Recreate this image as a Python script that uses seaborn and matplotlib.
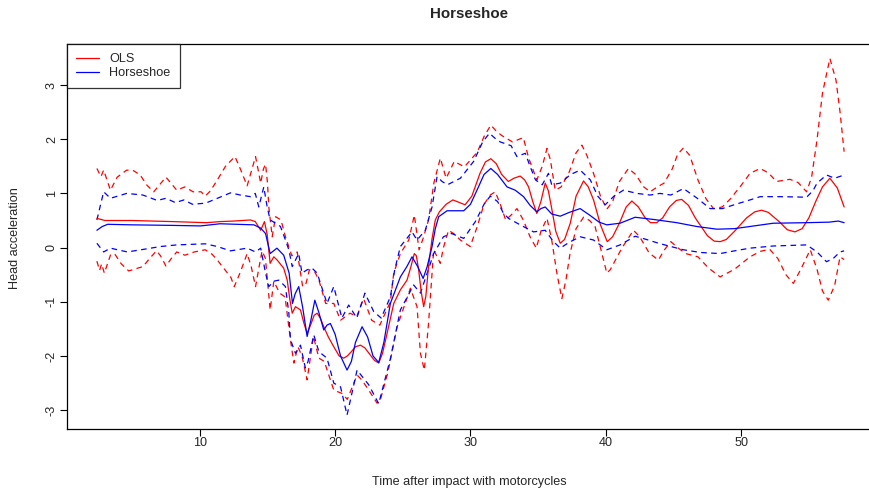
import numpy as np
import pandas as pd
import matplotlib
matplotlib.use("Agg")
import matplotlib.pyplot as plt
import seaborn as sns
from matplotlib.lines import Line2D

# ---------------- data ----------------
ols_mid_x = [2.4, 3.0, 5.0, 8.0, 10.5, 11.5, 12.5, 13.75, 14.1, 14.5, 14.78, 14.98, 15.2, 15.47, 15.72,
             16.2, 16.46, 16.65, 16.83, 17.07, 17.44, 17.7, 17.93, 18.2, 18.45, 18.67, 18.9, 19.16, 19.5,
             19.9, 20.3, 20.63, 20.9, 21.2, 21.5, 21.87, 22.2, 22.5, 22.9, 23.22, 23.5, 23.84, 24.33, 24.82,
             25.31, 25.6, 25.85, 26.0, 26.17, 26.35, 26.54, 26.7, 26.9, 27.15, 27.4, 27.7, 28.2, 28.7, 29.1,
             29.6, 30.1, 30.7, 31.1, 31.5, 31.9, 32.3, 32.8, 33.2, 33.67, 34.0, 34.29, 34.6, 34.9, 35.2,
             35.52, 35.75, 36.0, 36.3, 36.63, 36.95, 37.37, 37.8, 38.35, 38.7, 39.09, 39.6, 40.1, 40.5,
             41.0, 41.5, 41.92, 42.4, 42.9, 43.3, 43.76, 44.2, 44.7, 45.2, 45.6, 46.1, 46.6, 47.5, 48.0,
             48.44, 48.9, 49.5, 50.4, 51.0, 51.5, 52.0, 52.8, 53.4, 53.97, 54.5, 55.0, 55.5, 56.0, 56.55,
             57.1, 57.6]
ols_mid_y = [0.54, 0.50, 0.50, 0.48, 0.46, 0.48, 0.49, 0.51, 0.48, 0.32, 0.48, 0.24, -0.29, -0.17, -0.23,
             -0.38, -0.60, -0.95, -1.21, -1.09, -1.15, -1.40, -1.58, -1.42, -1.25, -1.21, -1.30, -1.46, -1.65,
             -1.83, -2.00, -2.04, -2.00, -1.92, -1.83, -1.80, -1.85, -1.95, -2.08, -2.13, -1.95, -1.58, -1.03, -0.78,
             -0.60, -0.35, -0.11, -0.15, -0.41, -0.80, -1.09, -0.90, -0.35, 0.15, 0.51, 0.66, 0.80, 0.88, 0.84,
             0.79, 0.95, 1.37, 1.58, 1.64, 1.55, 1.35, 1.22, 1.28, 1.32, 1.25, 1.12, 0.85, 0.63, 0.85,
             1.19, 1.05, 0.72, 0.30, 0.08, 0.15, 0.45, 0.95, 1.23, 1.12, 0.88, 0.42, 0.11, 0.20,
             0.45, 0.75, 0.86, 0.75, 0.55, 0.46, 0.46, 0.55, 0.75, 0.87, 0.89, 0.78, 0.55, 0.22, 0.12,
             0.11, 0.15, 0.30, 0.55, 0.66, 0.69, 0.65, 0.48, 0.33, 0.29, 0.35, 0.55, 0.85, 1.12, 1.28,
             1.10, 0.75]

hs_mid_x = [2.4, 2.8, 3.2, 5.0, 8.0, 10.06, 11.5, 14.0, 14.5, 14.86, 15.2, 15.7, 16.2, 16.6, 16.85, 17.05,
            17.31, 17.6, 17.93, 18.2, 18.5, 18.8, 19.16, 19.4, 19.65, 20.0, 20.4, 20.88, 21.2, 21.5, 21.99,
            22.4, 22.8, 23.22, 23.6, 24.08, 24.82, 25.3, 25.68, 26.1, 26.5, 26.8, 27.16, 27.4, 27.65, 28.27,
            29.5, 30.0, 30.48, 31.0, 31.5, 32.0, 32.7, 33.3, 33.92, 34.4, 34.9, 35.2, 35.52, 36.0, 36.63,
            37.3, 38.1, 38.8, 39.5, 40.07, 41.05, 42.16, 43.5, 45.24, 46.7, 48.2, 49.5, 50.65, 52.37,
            54.83, 56.5, 57.17, 57.6]
hs_mid_y = [0.32, 0.39, 0.43, 0.42, 0.41, 0.40, 0.44, 0.42, 0.36, 0.26, -0.11, -0.01, -0.14, -0.47, -1.03, -0.85,
            -0.72, -1.10, -1.64, -1.35, -0.97, -1.20, -1.52, -1.43, -1.40, -1.60, -2.00, -2.26, -2.10, -1.75, -1.46,
            -1.65, -2.00, -2.12, -1.75, -1.03, -0.54, -0.35, -0.17, -0.35, -0.57, -0.35, 0.02, 0.35, 0.57, 0.68,
            0.68, 0.80, 1.06, 1.35, 1.46, 1.35, 1.12, 1.06, 0.94, 0.78, 0.66, 0.72, 0.75, 0.62, 0.58,
            0.65, 0.72, 0.60, 0.47, 0.42, 0.45, 0.56, 0.52, 0.46, 0.39, 0.34, 0.35, 0.39, 0.45,
            0.46, 0.47, 0.49, 0.46]

ols_hi_x = [2.4, 2.7, 2.9, 3.4, 3.9, 4.6, 5.1, 5.6, 6.1, 6.6, 7.0, 7.5, 7.9, 8.3, 8.9, 9.5, 10.1, 10.4, 10.8,
            11.3, 11.9, 12.6, 13.0, 13.5, 13.8, 14.12, 14.3, 14.5, 14.7, 14.86, 15.0, 15.1, 15.35, 15.6, 16.0,
            16.33, 16.8, 17.2, 17.6, 17.85, 18.1, 18.5, 18.8, 19.3, 19.9, 20.4, 21.1, 21.6, 22.1, 22.7, 23.3,
            24.08, 24.33, 24.82, 25.44, 25.85, 26.2, 26.5, 26.9, 27.3, 27.77, 28.2, 28.8, 29.55, 30.5, 31.0,
            31.5, 31.9, 32.3, 33.1, 33.9, 34.3, 34.9, 35.3, 35.65, 35.9, 36.26, 36.7, 37.3, 37.8, 38.23,
            38.6, 39.09, 39.6, 40.07, 40.5, 41.0, 41.67, 42.2, 42.8, 43.27, 43.8, 44.3, 44.9, 45.3, 45.73,
            46.2, 46.8, 47.4, 47.95, 48.6, 49.2, 50.0, 50.65, 51.4, 52.0, 52.6, 53.6, 54.2, 54.83, 55.2,
            55.6, 56.0, 56.55, 57.0, 57.3, 57.6]
ols_hi_y = [1.46, 1.31, 1.43, 1.06, 1.30, 1.43, 1.42, 1.34, 1.15, 1.03, 1.15, 1.30, 1.18, 1.06, 1.12, 1.03, 1.03,
            0.95, 1.05, 1.25, 1.50, 1.68, 1.45, 1.14, 1.40, 1.68, 1.45, 1.19, 1.45, 1.54, 1.20, 0.75, 0.20,
            0.57, 0.51, 0.20, -0.15, -0.08, -0.72, -0.66, -0.41, -0.45, -0.60, -1.03, -1.03, -1.34, -1.21, -1.27,
            -0.94, -1.34, -1.43, -1.00, -0.47, -0.11, 0.14, 0.60, -0.04, 0.17, 0.51, 1.20, 1.65, 1.28, 1.59,
            1.49, 1.76, 2.05, 2.26, 2.15, 2.07, 1.95, 2.03, 1.65, 1.25, 1.50, 1.83, 1.62, 1.06, 1.12, 1.40,
            1.75, 1.89, 1.70, 1.37, 0.95, 0.71, 0.85, 1.22, 1.46, 1.35, 1.12, 1.03, 1.12, 1.19, 1.45, 1.72,
            1.84, 1.70, 1.25, 0.90, 0.72, 0.75, 0.90, 1.15, 1.37, 1.46, 1.38, 1.22, 1.26, 1.20, 1.03, 1.30,
            1.99, 2.85, 3.49, 3.09, 2.50, 1.77]

ols_lo_x = [2.4, 2.6, 2.75, 2.95, 3.4, 3.7, 4.2, 4.75, 5.8, 6.3, 6.8, 7.1, 7.5, 7.9, 8.3, 8.9, 9.6, 10.4, 10.9,
            11.3, 12.3, 12.55, 13.0, 13.5, 13.8, 14.12, 14.35, 14.6, 14.85, 15.2, 15.47, 15.9, 16.3, 16.7,
            16.95, 17.25, 17.55, 17.93, 18.4, 18.8, 19.2, 19.9, 20.5, 20.9, 21.62, 22.0, 22.48, 23.1, 23.35,
            23.9, 24.58, 25.56, 26.05, 26.3, 26.59, 26.9, 27.28, 27.77, 28.0, 28.38, 28.8, 29.25, 29.98,
            30.5, 31.0, 31.46, 31.83, 32.2, 32.6, 33.0, 33.43, 33.9, 34.4, 34.86, 35.2, 35.65, 36.0, 36.4,
            36.75, 37.05, 37.35, 37.8, 38.35, 38.8, 39.2, 39.7, 40.07, 40.32, 41.2, 42.04, 42.5, 43.2,
            43.88, 44.3, 44.8, 45.3, 45.9, 46.8, 47.6, 48.44, 49.5, 50.65, 51.4, 52.1, 52.7, 53.3, 53.85,
            54.4, 55.1, 55.6, 56.0, 56.43, 56.9, 57.3, 57.6]
ols_lo_y = [-0.25, -0.42, -0.30, -0.47, -0.14, -0.11, -0.30, -0.43, -0.35, -0.20, -0.06, -0.15, -0.34, -0.20,
            -0.08, -0.14, -0.08, -0.04, -0.12, -0.23, -0.55, -0.72, -0.45, -0.11, -0.35, -0.72, -0.40, -0.06,
            -0.20, -1.15, -0.62, -0.84, -0.91, -1.70, -2.13, -1.83, -2.00, -2.44, -1.64, -2.04, -2.10, -2.63,
            -2.69, -2.80, -2.35, -2.45, -2.63, -2.87, -2.80, -2.30, -1.46, -0.75, -1.09, -1.95, -2.26, -1.40,
            -0.04, -0.29, 0.00, 0.32, 0.25, 0.14, 0.02, 0.39, 0.80, 0.97, 1.03, 0.80, 0.51, 0.60, 0.72,
            0.51, 0.20, -0.01, 0.30, 0.54, 0.14, -0.50, -0.94, -0.60, -0.11, 0.35, 0.56, 0.50, 0.39, -0.10,
            -0.47, -0.41, 0.00, 0.32, 0.20, -0.10, -0.23, -0.05, 0.11, 0.00, -0.11, -0.17, -0.38, -0.54,
            -0.40, -0.17, -0.07, -0.03, -0.20, -0.50, -0.66, -0.40, -0.04, -0.40, -0.80, -0.97, -0.70, -0.17,
            -0.22]

hs_hi_x = [2.4, 2.9, 3.4, 4.6, 5.8, 6.86, 7.5, 8.2, 8.83, 9.45, 10.43, 11.3, 12.27, 13.0, 13.75, 14.1, 14.36,
           14.73, 14.98, 15.2, 15.6, 15.96, 16.33, 16.58, 16.83, 17.31, 17.55, 17.93, 18.3, 18.67, 19.4, 19.9,
           20.5, 21.0, 21.6, 22.2, 22.85, 23.4, 24.08, 24.4, 24.82, 25.68, 26.05, 26.66, 27.16, 27.53, 27.9,
           28.3, 29.25, 30.23, 30.9, 31.4, 31.8, 32.2, 33.0, 33.43, 34.05, 34.4, 34.8, 35.3, 35.76, 36.0,
           36.63, 37.4, 38.1, 38.85, 39.4, 39.95, 40.6, 41.3, 42.3, 43.27, 44.0, 44.8, 45.73, 46.7, 47.7,
           48.6, 49.6, 50.65, 51.4, 53.0, 54.83, 55.3, 55.6, 56.3, 56.9, 57.6]
hs_hi_y = [0.51, 1.03, 0.91, 1.00, 0.97, 0.87, 0.91, 0.83, 0.88, 0.80, 0.82, 0.91, 1.01, 0.97, 0.94, 1.00, 0.75,
           1.12, 0.75, 0.51, 0.45, 0.39, 0.14, -0.04, -0.35, -0.11, -0.47, -0.41, -0.38, -0.47, -1.03, -0.72,
           -1.30, -1.06, -1.30, -0.84, -1.18, -1.30, -0.91, -0.41, 0.02, 0.29, 0.14, 0.32, 0.75, 1.31, 1.22,
           1.16, 1.28, 1.59, 1.95, 2.11, 2.02, 1.95, 1.88, 1.68, 1.74, 1.50, 1.25, 1.16, 1.37, 1.16,
           1.19, 1.35, 1.43, 1.25, 0.95, 0.79, 0.95, 1.06, 1.00, 0.97, 1.00, 0.97, 1.09, 0.92, 0.72,
           0.72, 0.80, 0.88, 0.94, 0.94, 0.93, 1.05, 1.19, 1.34, 1.28, 1.34]

hs_lo_x = [2.4, 2.9, 3.4, 4.65, 5.9, 7.1, 8.3, 10.4, 11.3, 12.27, 13.5, 14.12, 14.5, 14.86, 15.1, 15.47, 15.84,
           16.33, 16.58, 16.7, 17.07, 17.44, 17.8, 18.0, 18.42, 18.8, 19.4, 19.9, 20.4, 20.88, 21.62, 22.48,
           23.22, 24.08, 24.82, 25.8, 26.3, 26.8, 27.28, 28.0, 28.6, 29.5, 30.36, 31.0, 31.46, 32.0, 32.4,
           32.8, 33.67, 34.66, 35.52, 36.1, 36.63, 37.3, 38.1, 39.09, 40.07, 41.05, 42.16, 43.0, 43.9, 44.8,
           45.73, 47.0, 48.44, 49.5, 50.65, 52.37, 54.83, 55.6, 56.3, 56.8, 57.3, 57.6]
hs_lo_y = [0.08, -0.08, -0.01, -0.08, -0.03, 0.02, 0.05, 0.07, 0.02, -0.06, -0.01, -0.08, -0.01, -0.47, -0.72,
           -0.62, -0.60, -0.72, -1.21, -1.70, -1.95, -1.80, -2.22, -2.10, -1.61, -1.92, -2.04, -2.50, -2.57,
           -3.09, -2.26, -2.53, -2.88, -2.05, -1.15, -0.69, -0.84, -0.47, -0.11, 0.20, 0.26, 0.17, 0.48, 0.80,
           0.95, 0.85, 0.65, 0.54, 0.42, 0.29, 0.32, 0.12, -0.01, 0.10, 0.20, 0.14, -0.04, 0.05, 0.21, 0.15,
           0.08, 0.02, -0.04, -0.09, -0.11, -0.06, -0.01, 0.03, 0.05, -0.08, -0.26, -0.20, -0.08, -0.06]

x_ticks = [10, 20, 30, 40, 50]
y_ticks = [-3, -2, -1, 0, 1, 2, 3]
legend_labels = ["OLS", "Horseshoe"]
title = "Horseshoe"
x_label = "Time after impact with motorcycles"
y_label = "Head acceleration"

# ---------------- plotting ----------------
sns.set_style("white")
plt.rcParams["font.family"] = ["Liberation Sans", "DejaVu Sans"]
FS = 9.1

fig = plt.figure(figsize=(8.70, 4.91), dpi=100)
ax = fig.add_axes([67 / 870, 1 - 429 / 491, (874 - 67) / 870, (429 - 44) / 491])

RED, BLUE = "#FF0000", "#0000FF"
dash = (0, (4.5, 3.5))
curves = [
    (ols_hi_x, ols_hi_y, RED, dash),
    (ols_lo_x, ols_lo_y, RED, dash),
    (hs_hi_x, hs_hi_y, BLUE, dash),
    (hs_lo_x, hs_lo_y, BLUE, dash),
    (ols_mid_x, ols_mid_y, RED, "-"),
    (hs_mid_x, hs_mid_y, BLUE, "-"),
]
for xs, ys, col, ls in curves:
    df = pd.DataFrame({"t": xs, "a": ys})
    sns.lineplot(data=df, x="t", y="a", ax=ax, color=col, sort=False, estimator=None,
                 linewidth=0.9, linestyle=ls)

ax.set_xlim(0.192, 59.808)
ax.set_ylim(-3.347, 3.757)
ax.set_xticks(x_ticks)
ax.set_yticks(y_ticks)
ax.set_xticklabels([str(v) for v in x_ticks], fontsize=FS)
ax.set_yticklabels([str(v) for v in y_ticks], fontsize=FS, rotation=90, va="center")
ax.tick_params(axis="both", direction="out", length=5, width=0.8, color="black",
               bottom=True, left=True)
ax.tick_params(axis="x", pad=1.0)
ax.tick_params(axis="y", pad=1.5)
for s in ax.spines.values():
    s.set_color("black")
    s.set_linewidth(0.9)
ax.spines["right"].set_visible(False)
ax.set_xlabel("")
ax.set_ylabel("")
fig.text(469 / 870, 1 - 482 / 491, x_label, ha="center", va="center", fontsize=FS)
fig.text(15 / 870, 1 - 238 / 491, y_label, ha="center", va="center", rotation=90, fontsize=FS)
fig.text(469 / 870, 1 - 14 / 491, title, ha="center", va="center", fontsize=FS * 1.2, fontweight="bold")

handles = [Line2D([0], [0], color=RED, lw=0.9), Line2D([0], [0], color=BLUE, lw=0.9)]
leg = ax.legend(handles, legend_labels, loc="upper left", bbox_to_anchor=(0, 1), borderaxespad=0,
                fontsize=FS, frameon=True, fancybox=False, handlelength=1.75, handletextpad=0.85,
                borderpad=0.75, labelspacing=0.12)
leg.get_frame().set_edgecolor("black")
leg.get_frame().set_linewidth(0.9)

fig.savefig("out.png", dpi=100, facecolor="white")
